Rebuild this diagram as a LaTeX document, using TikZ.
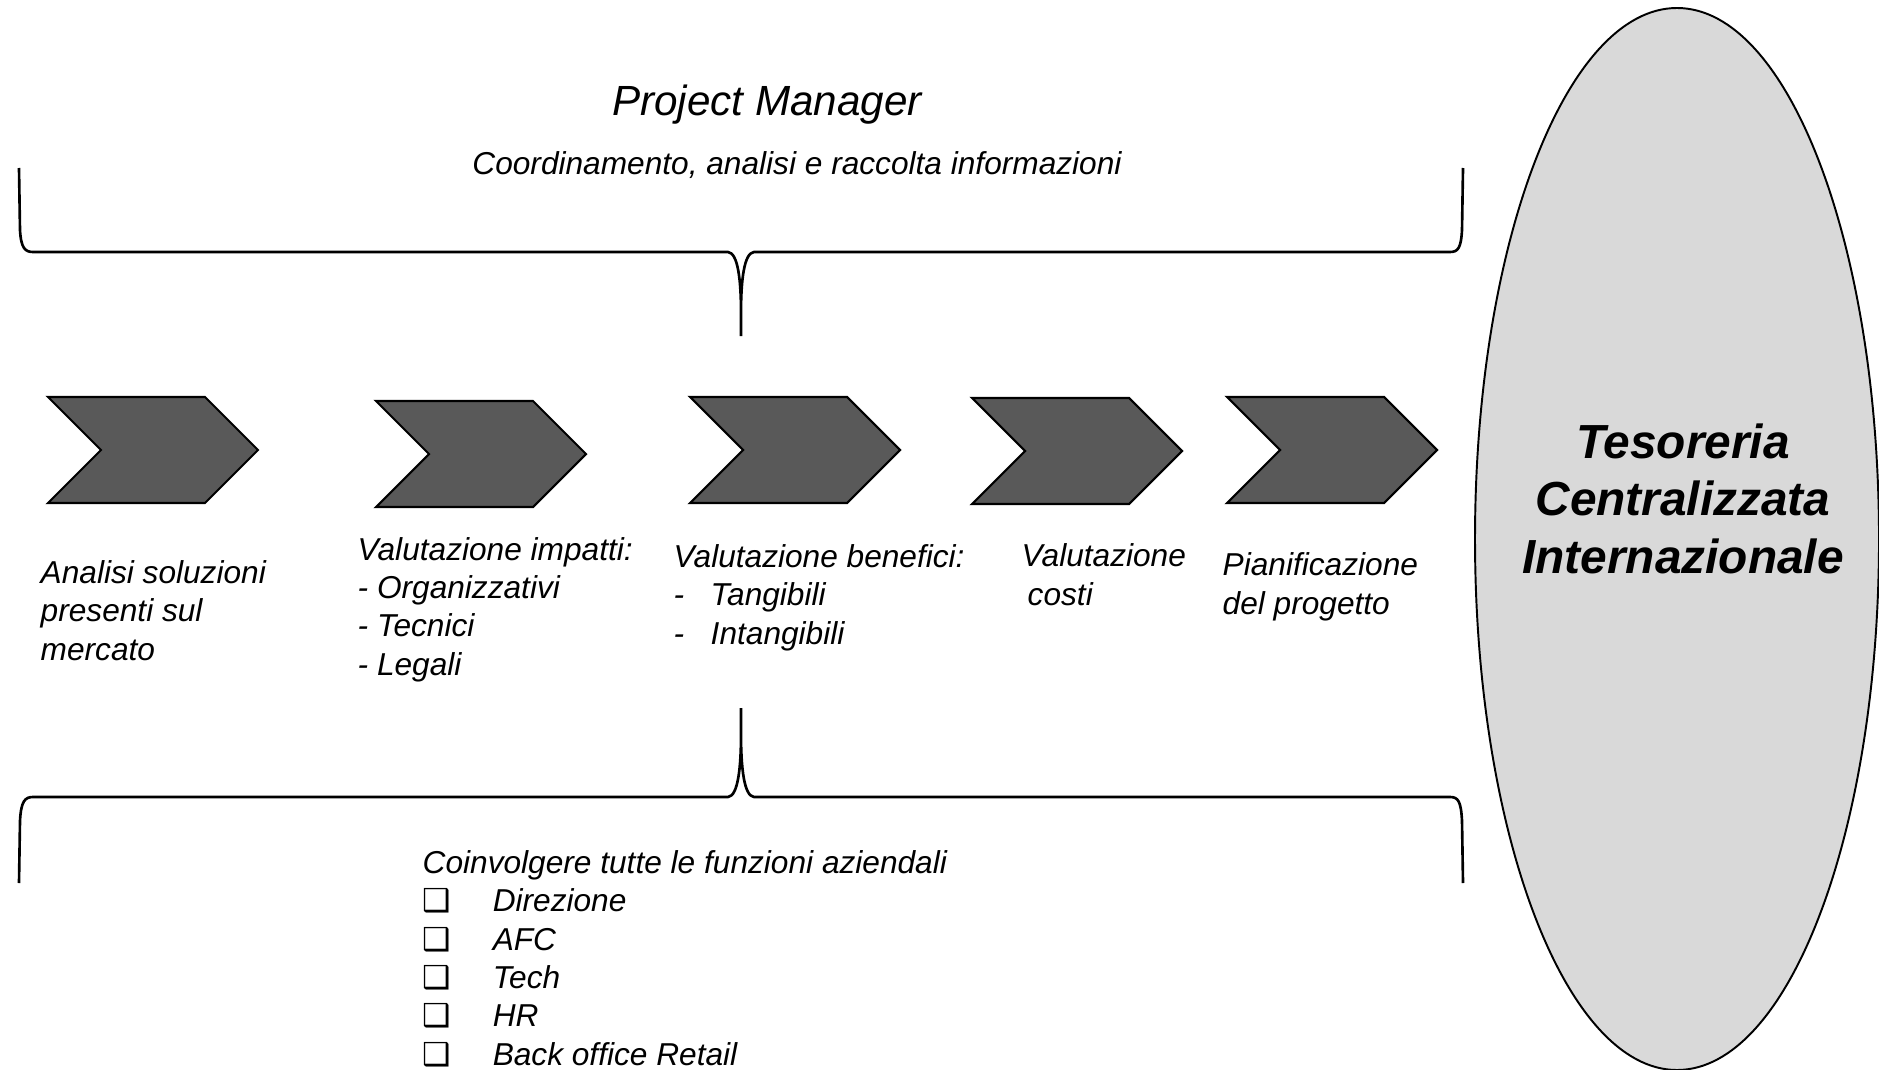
\documentclass[tikz,border=0pt]{standalone}
\usepackage{fontspec}
\setmainfont{Liberation Sans}
\newfontfamily\dingfont{DejaVu Sans}
\usepackage{xcolor}
\usepackage{tikz}
\usetikzlibrary{positioning}
\definecolor{chevrongray}{HTML}{595959}
\definecolor{ovalgray}{HTML}{D9D9D9}
\newcommand\chkbox{\makebox[0.7cm][l]{\dingfont\upshape ❑}}

\begin{document}
\begin{tikzpicture}[x=0.01cm, y=-0.01cm,
		chevron/.style={draw=black, line width=0.6pt, fill=chevrongray, line join=miter},
		brace/.style={draw=black, line width=0.75pt},
		txt/.style={font=\itshape\fontsize{9}{10.9}\selectfont, align=left, inner sep=0pt, anchor=base west}]
		\useasboundingbox (0,0) rectangle (1879,1070);
		%%\draw[help lines, step=100] (0,0) grid (1879,1070);
		\draw [brace] (19,168) -- (20,230) .. controls (21,248) and (25,252) .. (33,252) -- (728,252)
			.. controls (738,253) and (741,280) .. (741,313) -- (741,336)
			(741,313) .. controls (741,280) and (744,253) .. (754,252) -- (1450,252)
			.. controls (1458,252) and (1461,248) .. (1462,230) -- (1463,168);
		\draw [brace] (19,883) -- (20,821) .. controls (21,801) and (25,797) .. (33,797) -- (728,797)
			.. controls (738,796) and (741,768) .. (741,734) -- (741,708)
			(741,734) .. controls (741,768) and (744,796) .. (754,797) -- (1450,797)
			.. controls (1458,797) and (1461,801) .. (1462,821) -- (1463,883);
		
		\foreach \x/\y in {48/397, 376/401, 690/397, 972/398, 1227/397}
			\draw [chevron] (\x,\y) -- ++(157,0) -- ++(53,53) -- ++(-53,53) -- ++(-157,0) -- ++(53,-53) -- cycle;
		
		\draw [draw=black, line width=0.55pt, fill=ovalgray] (1677,539) ellipse [x radius=202, y radius=531];
		% base = last line of the node
		\node (tesoreria) at (1683,573) [font=\bfseries\itshape\fontsize{13.6}{16.3}\selectfont, align=center, inner sep=0pt, anchor=base] {Tesoreria\\Centralizzata\\Internazionale};
		
		\node (pm) at (767,116) [font=\itshape\fontsize{12}{14}\selectfont, inner sep=0pt, anchor=base] {Project Manager};
		\node (coord) at (797,175) [txt, anchor=base] {Coordinamento, analisi e raccolta informazioni};
		
		\node (analisi) at (40,660) [txt] {Analisi soluzioni\\presenti sul\\mercato};
		\node (impatti) at (357,675) [txt] {Valutazione impatti:\\- Organizzativi\\- Tecnici\\- Legali};
		\node (benefici) at (673,644) [txt] {Valutazione benefici:\\\makebox[0.37cm][l]{-}Tangibili\\\makebox[0.37cm][l]{-}Intangibili};
		\node (costi) at (1021,605) [txt] {Valutazione\\\hspace{0.06cm}costi};
		\node (piano) at (1222,614) [txt] {Pianificazione\\del progetto};
		
		\node (funzioni) at (422,1065) [txt] {Coinvolgere tutte le funzioni aziendali\\\chkbox Direzione\\\chkbox AFC\\\chkbox Tech\\\chkbox HR\\\chkbox Back office Retail};
\end{tikzpicture}
\end{document}
